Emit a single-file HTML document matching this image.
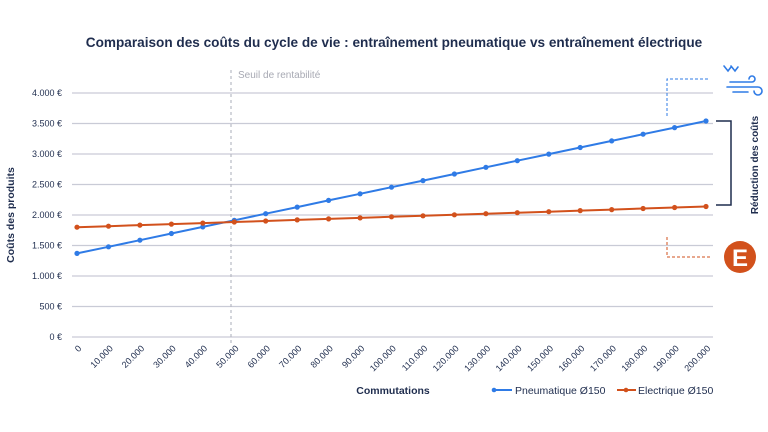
<!DOCTYPE html>
<html><head><meta charset="utf-8"><style>
html,body{margin:0;padding:0;background:#fff;}
svg{display:block;font-family:"Liberation Sans",sans-serif;}
</style></head><body>
<svg width="768" height="432" viewBox="0 0 768 432">
<defs>
<marker id="mb" viewBox="0 0 6 6" refX="3" refY="3" markerWidth="6" markerHeight="6" markerUnits="userSpaceOnUse"><circle cx="3" cy="3" r="2.6" fill="#2f7be6"/></marker>
<marker id="mo" viewBox="0 0 6 6" refX="3" refY="3" markerWidth="6" markerHeight="6" markerUnits="userSpaceOnUse"><circle cx="3" cy="3" r="2.6" fill="#d2511c"/></marker>
</defs>
<text x="394" y="47" text-anchor="middle" font-size="13.6" font-weight="bold" fill="#1f2d4e">Comparaison des coûts du cycle de vie : entraînement pneumatique vs entraînement électrique</text>
<g stroke="#c9cbd6" stroke-width="1.3">
<line x1="72" x2="713" y1="337" y2="337"/><line x1="72" x2="713" y1="306.5" y2="306.5"/>
<line x1="72" x2="713" y1="276" y2="276"/><line x1="72" x2="713" y1="245.5" y2="245.5"/>
<line x1="72" x2="713" y1="215" y2="215"/><line x1="72" x2="713" y1="184.5" y2="184.5"/>
<line x1="72" x2="713" y1="154" y2="154"/><line x1="72" x2="713" y1="123.5" y2="123.5"/>
<line x1="72" x2="713" y1="93" y2="93"/>
</g>
<g font-size="9" fill="#1f2d4e" text-anchor="end">
<text x="62" y="340">0 €</text><text x="62" y="309.5">500 €</text><text x="62" y="279">1.000 €</text>
<text x="62" y="248.5">1.500 €</text><text x="62" y="218">2.000 €</text><text x="62" y="187.5">2.500 €</text>
<text x="62" y="157">3.000 €</text><text x="62" y="126.5">3.500 €</text><text x="62" y="96">4.000 €</text>
</g>
<text transform="translate(14,215) rotate(-90)" text-anchor="middle" font-size="10.5" font-weight="bold" fill="#1f2d4e">Coûts des produits</text>
<line x1="231" y1="70" x2="231" y2="345" stroke="#b8bac4" stroke-width="1.2" stroke-dasharray="3,3"/>
<text x="238" y="78" font-size="10" fill="#a7a9b3">Seuil de rentabilité</text>
<polyline fill="none" stroke="#2f7be6" stroke-width="2" marker-start="url(#mb)" marker-mid="url(#mb)" marker-end="url(#mb)" points="77,253.4 108.5,246.8 139.9,240.2 171.4,233.5 202.8,226.9 234.3,220.3 265.7,213.7 297.2,207.1 328.6,200.4 360.1,193.8 391.5,187.2 423,180.6 454.4,174 485.9,167.3 517.3,160.7 548.8,154.1 580.2,147.5 611.7,140.9 643.1,134.2 674.6,127.6 706,121"/>
<polyline fill="none" stroke="#d2511c" stroke-width="2" marker-start="url(#mo)" marker-mid="url(#mo)" marker-end="url(#mo)" points="77,227.2 108.5,226.2 139.9,225.1 171.4,224.1 202.8,223.1 234.3,222 265.7,221 297.2,219.9 328.6,218.9 360.1,217.9 391.5,216.8 423,215.8 454.4,214.8 485.9,213.7 517.3,212.7 548.8,211.7 580.2,210.6 611.7,209.6 643.1,208.5 674.6,207.5 706,206.5"/>
<g font-size="9" fill="#1f2d4e" text-anchor="end">
<text transform="translate(82,349) rotate(-45)">0</text>
<text transform="translate(113.5,349) rotate(-45)">10.000</text>
<text transform="translate(144.9,349) rotate(-45)">20.000</text>
<text transform="translate(176.4,349) rotate(-45)">30.000</text>
<text transform="translate(207.8,349) rotate(-45)">40.000</text>
<text transform="translate(239.3,349) rotate(-45)">50.000</text>
<text transform="translate(270.7,349) rotate(-45)">60.000</text>
<text transform="translate(302.2,349) rotate(-45)">70.000</text>
<text transform="translate(333.6,349) rotate(-45)">80.000</text>
<text transform="translate(365.1,349) rotate(-45)">90.000</text>
<text transform="translate(396.5,349) rotate(-45)">100.000</text>
<text transform="translate(428,349) rotate(-45)">110.000</text>
<text transform="translate(459.4,349) rotate(-45)">120.000</text>
<text transform="translate(490.9,349) rotate(-45)">130.000</text>
<text transform="translate(522.3,349) rotate(-45)">140.000</text>
<text transform="translate(553.8,349) rotate(-45)">150.000</text>
<text transform="translate(585.2,349) rotate(-45)">160.000</text>
<text transform="translate(616.7,349) rotate(-45)">170.000</text>
<text transform="translate(648.1,349) rotate(-45)">180.000</text>
<text transform="translate(679.6,349) rotate(-45)">190.000</text>
<text transform="translate(711,349) rotate(-45)">200.000</text>
</g>
<text x="393" y="394" text-anchor="middle" font-size="10.5" font-weight="bold" fill="#1f2d4e">Commutations</text>
<line x1="493" y1="390" x2="512" y2="390" stroke="#2f7be6" stroke-width="2"/><circle cx="494" cy="390" r="2.3" fill="#2f7be6"/>
<text x="515" y="394" font-size="10.5" fill="#1f2d4e">Pneumatique Ø150</text>
<line x1="617" y1="390" x2="636" y2="390" stroke="#d2511c" stroke-width="2"/><circle cx="626" cy="390" r="2.3" fill="#d2511c"/>
<text x="638" y="394" font-size="10.5" fill="#1f2d4e">Electrique Ø150</text>
<path d="M716,121 H731 V205 H716" fill="none" stroke="#1f2d4e" stroke-width="1.5"/>
<text transform="translate(758,165) rotate(-90)" text-anchor="middle" font-size="10" font-weight="bold" fill="#1f2d4e">Réduction des coûts</text>
<path d="M667,116 V79 H710" fill="none" stroke="#2f7be6" stroke-width="1" stroke-dasharray="3,2"/>
<path d="M667,237 V257 H710" fill="none" stroke="#d2511c" stroke-width="1" stroke-dasharray="3,2"/>
<g fill="none" stroke="#2f7be6" stroke-width="1.6" stroke-linecap="round">
<path d="M724,66 l4,5 l3,-4 M731,66 l4,5 l3,-4"/>
<path d="M730,82 H752 a3,3 0 1 0 -3,-3"/>
<path d="M727,87 H758 a4,4 0 1 1 -4,4"/>
<path d="M733,92 H748"/>
</g>
<circle cx="740" cy="257" r="16" fill="#d2511c"/>
<text x="740" y="266" text-anchor="middle" font-size="24" font-weight="bold" fill="#fff">E</text>
</svg>
</body></html>
